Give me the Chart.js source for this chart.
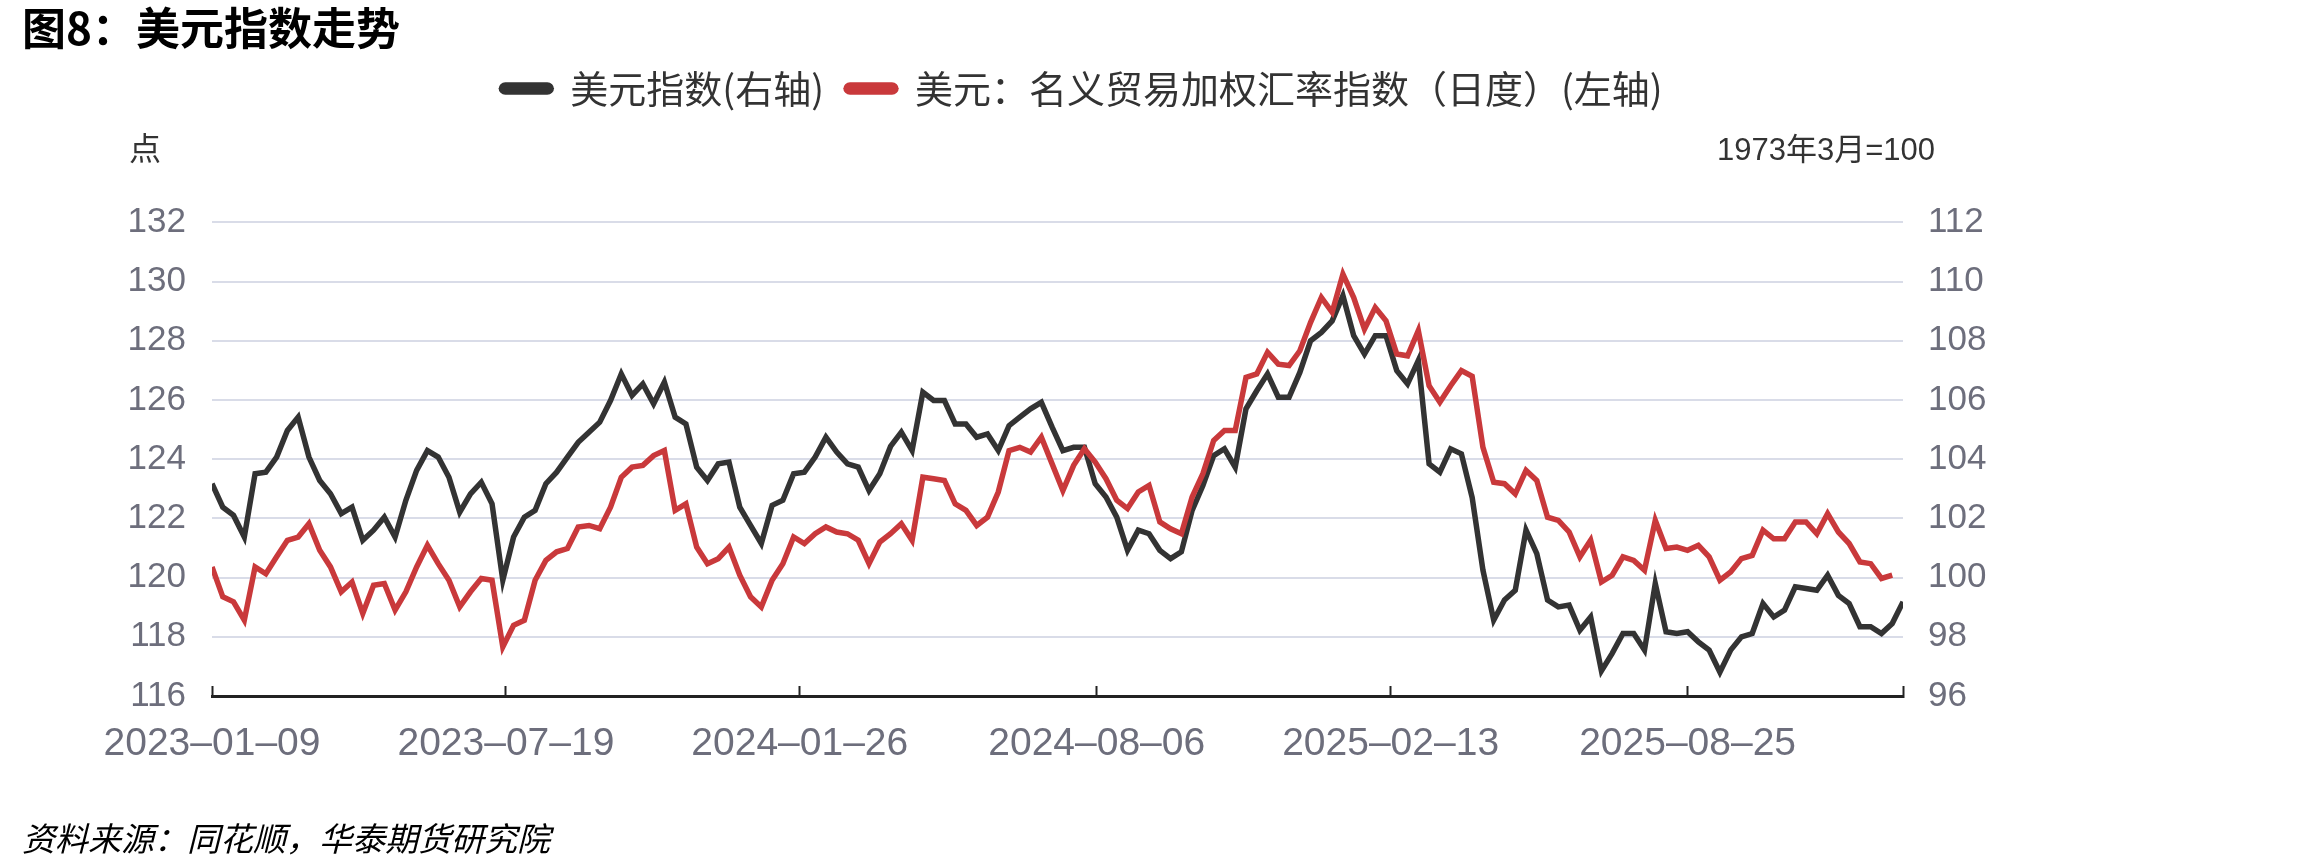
<!DOCTYPE html>
<html lang="zh-CN">
<head>
<meta charset="utf-8">
<title>美元指数走势</title>
<script src="https://cdn.jsdelivr.net/npm/chart.js@4.4.1/dist/chart.umd.min.js"></script>
<style>
  html, body { margin: 0; padding: 0; background: #fff; }
  #wrap { width: 2297px; height: 866px; }
</style>
</head>
<body>
<div id="wrap"><canvas id="dxy-chart" width="2297" height="866"></canvas></div>
<script>
// 周度取样，起点 2023-01-09，每 7 天一个点
const startDate = '2023-01-09';
const stepDays = 7;

// 横轴刻度日期
const tickDates = ['2023-01-09', '2023-07-19', '2024-01-26', '2024-08-06', '2025-02-13', '2025-08-25'];

// 美元指数（右轴）
const usdIndex = [
  103.17, 102.38, 102.10, 101.37, 103.51, 103.56, 104.07, 104.97, 105.42, 104.07,
  103.28, 102.83, 102.16, 102.38, 101.26, 101.60, 102.04, 101.37, 102.61, 103.62,
  104.29, 104.07, 103.39, 102.21, 102.83, 103.22, 102.49, 99.91, 101.37, 102.04,
  102.27, 103.17, 103.56, 104.07, 104.57, 104.91, 105.25, 105.98, 106.88, 106.15,
  106.54, 105.87, 106.60, 105.42, 105.19, 103.73, 103.28, 103.84, 103.90, 102.38,
  101.76, 101.15, 102.44, 102.61, 103.51, 103.56, 104.07, 104.74, 104.24, 103.84,
  103.73, 102.94, 103.51, 104.43, 104.91, 104.29, 106.26, 105.98, 105.98, 105.19,
  105.19, 104.74, 104.85, 104.29, 105.13, 105.42, 105.70, 105.92, 105.08, 104.29,
  104.40, 104.40, 103.17, 102.72, 102.04, 100.92, 101.60, 101.48, 100.92, 100.64,
  100.87, 102.27, 103.11, 104.12, 104.35, 103.73, 105.70, 106.31, 106.88, 106.09,
  106.09, 106.93, 108.00, 108.28, 108.67, 109.52, 108.17, 107.55, 108.17, 108.17,
  106.99, 106.54, 107.33, 103.84, 103.56, 104.35, 104.18, 102.70, 100.25, 98.56,
  99.24, 99.57, 101.60, 100.81, 99.24, 99.01, 99.07, 98.22, 98.67, 96.85,
  97.44, 98.11, 98.11, 97.55, 99.80, 98.17, 98.11, 98.17, 97.83, 97.55,
  96.80, 97.55, 98.00, 98.11, 99.12, 98.67, 98.90, 99.69, 99.63, 99.57,
  100.08, 99.40, 99.12, 98.34, 98.34, 98.11, 98.45, 99.18
];

// 美元：名义贸易加权汇率指数（日度）（左轴）
const tradeWeighted = [
  120.36, 119.35, 119.18, 118.56, 120.36, 120.13, 120.70, 121.26, 121.37, 121.82,
  120.92, 120.36, 119.52, 119.85, 118.79, 119.74, 119.80, 118.90, 119.52, 120.36,
  121.09, 120.47, 119.91, 119.01, 119.52, 119.97, 119.91, 117.66, 118.39, 118.56,
  119.91, 120.58, 120.87, 120.98, 121.71, 121.76, 121.65, 122.38, 123.39, 123.73,
  123.79, 124.12, 124.29, 122.27, 122.49, 121.03, 120.47, 120.64, 121.03, 120.08,
  119.35, 119.01, 119.91, 120.47, 121.37, 121.15, 121.48, 121.71, 121.54, 121.48,
  121.26, 120.47, 121.20, 121.48, 121.82, 121.26, 123.39, 123.34, 123.28, 122.49,
  122.27, 121.76, 122.04, 122.89, 124.29, 124.40, 124.24, 124.74, 123.84, 122.94,
  123.79, 124.35, 123.90, 123.34, 122.61, 122.33, 122.89, 123.11, 121.88, 121.65,
  121.48, 122.72, 123.51, 124.63, 124.97, 124.97, 126.76, 126.88, 127.61, 127.21,
  127.16, 127.66, 128.62, 129.46, 128.96, 130.25, 129.46, 128.39, 129.12, 128.67,
  127.55, 127.49, 128.34, 126.48, 125.92, 126.48, 126.99, 126.80, 124.40, 123.22,
  123.17, 122.83, 123.62, 123.28, 122.04, 121.93, 121.54, 120.70, 121.26, 119.85,
  120.08, 120.70, 120.58, 120.25, 121.93, 120.98, 121.03, 120.92, 121.09, 120.70,
  119.91, 120.19, 120.64, 120.75, 121.60, 121.31, 121.31, 121.88, 121.88, 121.48,
  122.16, 121.54, 121.15, 120.53, 120.47, 119.97, 120.08
];

const unitLeft = '点';
const unitRight = '1973年3月=100';
const sourceNote = '资料来源：同花顺，华泰期货研究院';

const DAY = 86400000;
const dayOf = (s) => Math.round((Date.parse(s) - Date.parse(startDate)) / DAY);
const tickDays = tickDates.map(dayOf);
const xMax = (usdIndex.length - 1) * stepDays;

const toPoints = (arr) => arr.map((v, i) => ({ x: i * stepDays, y: v }));

const cnFont = '"Noto Sans CJK SC", sans-serif';
const numFont = '"Liberation Sans", "Noto Sans CJK SC", sans-serif';
const tickColor = '#6d6e7c';

// 单位和资料来源
const extraText = {
  id: 'extraText',
  afterDraw(chart) {
    const { ctx, chartArea } = chart;
    ctx.save();
    ctx.textBaseline = 'middle';
    ctx.textAlign = 'left';
    ctx.fillStyle = '#333';
    ctx.font = '32px ' + numFont;
    ctx.fillText(unitLeft, chartArea.left - 83, 151);
    ctx.font = '31px ' + numFont;
    ctx.fillText(unitRight, chartArea.right - 186, 151);
    ctx.fillStyle = '#000';
    ctx.font = 'italic 33px ' + cnFont;
    ctx.fillText(sourceNote, 22, 838);
    ctx.restore();
  }
};

const ctx = document.getElementById('dxy-chart').getContext('2d');
new Chart(ctx, {
  type: 'line',
  data: {
    datasets: [
      {
        label: '美元指数(右轴)',
        data: toPoints(usdIndex),
        xAxisID: 'x',
        yAxisID: 'yRight',
        borderColor: '#333333',
        backgroundColor: '#333333',
        borderWidth: 5.5,
        pointRadius: 0,
        order: 1
      },
      {
        label: '美元：名义贸易加权汇率指数（日度）(左轴)',
        data: toPoints(tradeWeighted),
        xAxisID: 'x',
        yAxisID: 'yLeft',
        borderColor: '#c9393b',
        backgroundColor: '#c9393b',
        borderWidth: 5.5,
        pointRadius: 0,
        order: 0
      }
    ]
  },
  options: {
    responsive: false,
    animation: false,
    layout: { padding: { left: 22, right: 155, top: 0, bottom: 0 } },
    plugins: {
      title: {
        display: true,
        text: '图8：美元指数走势',
        align: 'start',
        color: '#000',
        font: { family: cnFont, size: 44, weight: 'bold', lineHeight: 0.9 },
        padding: { top: 8, bottom: 0 }
      },
      legend: {
        position: 'top',
        labels: {
          boxWidth: 50,
          boxHeight: 7,
          useBorderRadius: true,
          borderRadius: 4,
          padding: 22,
          color: '#333',
          font: { family: cnFont, size: 38 },
          sort: (a, b) => a.datasetIndex - b.datasetIndex
        }
      },
      tooltip: { enabled: false }
    },
    scales: {
      x: {
        type: 'linear',
        position: 'bottom',
        min: 0,
        max: xMax,
        afterBuildTicks: (scale) => {
          scale.ticks = tickDays.concat([xMax]).map((v) => ({ value: v }));
        },
        afterFit: (scale) => { scale.height = 170; },
        grid: { drawOnChartArea: false, drawTicks: true, tickLength: -10, tickColor: '#222', tickWidth: 2 },
        border: { display: true, color: '#222', width: 3 },
        ticks: {
          autoSkip: false,
          maxRotation: 0,
          padding: 35,
          color: tickColor,
          font: { family: numFont, size: 39 },
          callback: (value) => {
            const k = tickDays.indexOf(value);
            return k >= 0 ? tickDates[k].replace(/-/g, '–') : '';
          }
        }
      },
      // 图例与绘图区之间留白
      spacer: {
        type: 'linear',
        axis: 'x',
        position: 'top',
        display: true,
        grid: { display: false },
        border: { display: false },
        ticks: { display: false },
        afterFit: (scale) => { scale.height = 104.7; }
      },
      yLeft: {
        type: 'linear',
        position: 'left',
        min: 116,
        max: 132,
        afterFit: (scale) => { scale.width = 190; },
        grid: { color: '#d9dce8', lineWidth: 2, drawTicks: false },
        border: { display: false },
        ticks: { stepSize: 2, padding: 26, color: tickColor, font: { family: numFont, size: 35 } }
      },
      yRight: {
        type: 'linear',
        position: 'right',
        min: 96,
        max: 112,
        afterFit: (scale) => { scale.width = 239; },
        grid: { drawOnChartArea: false, drawTicks: false },
        border: { display: false },
        ticks: { stepSize: 2, padding: 25, color: tickColor, font: { family: numFont, size: 35 } }
      }
    }
  },
  plugins: [extraText]
});
</script>
</body>
</html>
